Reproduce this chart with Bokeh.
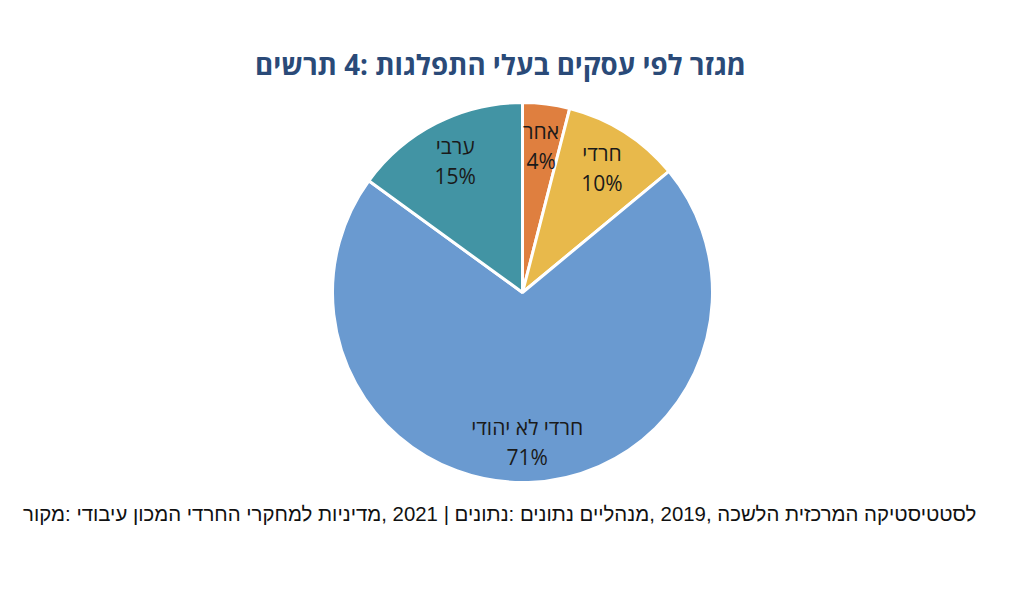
import math
from bokeh.plotting import figure
from bokeh.models import ColumnDataSource, Range1d
from bokeh.core.properties import value
from bokeh.embed import file_html
from bokeh.resources import INLINE

# Texts, right to left
title_text = "מגזר לפי עסקים בעלי התפלגות :4 תרשים"
source_text = "לסטטיסטיקה המרכזית הלשכה ,2019 ,מנהליים נתונים :נתונים | 2021 ,מדיניות למחקרי החרדי המכון עיבודי  :מקור"

categories = ["אחר", "חרדי", "חרדי לא יהודי", "ערבי"]
shares = [4, 10, 71, 15]
pct_labels = ["4%", "10%", "71%", "15%"]
colors = ["#DF7F3F", "#E8B94B", "#6A9AD0", "#4294A4"]

W, H = 1008, 573
p = figure(width=W, height=H, output_backend="svg", toolbar_location=None,
           x_range=Range1d(0, W), y_range=Range1d(0, H), min_border=0,
           outline_line_color=None, background_fill_color="white")
p.axis.visible = False
p.grid.visible = False

cx, cy, R = 522, 281, 190
total = sum(shares)
starts, ends, lx, ly = [], [], [], []
cum = 0
for s in shares:
    a0 = math.pi / 2 - 2 * math.pi * cum / total
    a1 = math.pi / 2 - 2 * math.pi * (cum + s) / total
    starts.append(a0)
    ends.append(a1)
    mid = (a0 + a1) / 2
    r = 0.78 * R
    lx.append(cx + r * math.cos(mid))
    ly.append(cy + r * math.sin(mid) - 1)
    cum += s

src = ColumnDataSource(dict(start=starts, end=ends, color=colors,
                            name=categories, pct=pct_labels, lx=lx, ly=ly,
                            ly1=[y + 15 for y in ly], ly2=[y - 15 for y in ly]))

p.wedge(x=cx, y=cy, radius=R, start_angle="start", end_angle="end",
        direction="clock", fill_color="color", line_color="white",
        line_width=3, source=src)

p.text(x="lx", y="ly1", text="name", source=src, text_align="center",
       text_baseline="middle", text_font=value("Open Sans"),
       text_font_size="21px", text_color="#1a1a1a")
p.text(x="lx", y="ly2", text="pct", source=src, text_align="center",
       text_baseline="middle", text_font=value("Open Sans"),
       text_font_size="21px", text_color="#1a1a1a")

p.text(x=[500], y=[510], text=[title_text], text_align="center",
       text_baseline="middle", text_font=value("Open Sans"),
       text_font_size="27.7px", text_font_style="bold", text_color="#2A4A78")

p.text(x=[502], y=[60], text=[source_text], text_align="center",
       text_baseline="middle", text_font=value("Liberation Sans"),
       text_font_size="20.4px", text_color="#111111")

open("out.html", "w").write(file_html(p, INLINE))
